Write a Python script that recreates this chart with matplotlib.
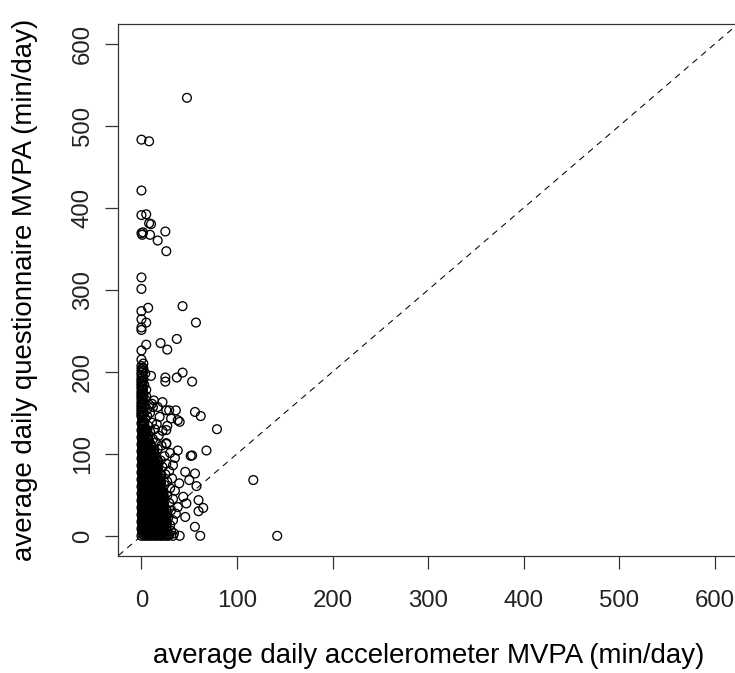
import matplotlib
matplotlib.use("Agg")
import matplotlib.pyplot as plt

plt.rcParams["font.family"] = ["Liberation Sans", "DejaVu Sans"]

# ---------------- data ----------------
x_ticks = [0, 100, 200, 300, 400, 500, 600]
y_ticks = [0, 100, 200, 300, 400, 500, 600]
x_label = "average daily accelerometer MVPA (min/day)"
y_label = "average daily questionnaire MVPA (min/day)"

# dense cluster near the origin: questionnaire value of each row, and accelerometer values in it
cluster_y = [0, 4.3, 8.6, 12.9, 17.1, 21.4, 25.7, 30, 34.3, 38.6, 42.9, 47.1, 51.4,
             55.7, 60, 64.3, 68.6, 72.9, 77.1, 81.4, 85.7, 90, 94.3, 98.6, 102.9,
             107.1, 111.4, 115.7, 120, 124.3, 128.6, 132.9, 137.1, 141.4, 145.7]
cluster_x = [
    [0, 3.1, 6.5, 9.4, 12.9, 15.8, 19.3, 22.2, 25.7, 28.4],
    [1.6, 4.7, 8.1, 11.2, 14.3, 17.7, 20.8, 24.1],
    [0, 3.3, 6.2, 9.7, 12.7, 16.1, 19.0, 22.5, 25.4],
    [1.5, 4.9, 7.9, 11.3, 14.5, 17.5, 20.9, 23.8],
    [0, 3.0, 6.4, 9.5, 12.8, 16.2, 19.2, 22.3, 25.6],
    [1.7, 4.8, 8.0, 11.1, 14.4, 17.6, 20.7, 24.0],
    [0, 3.2, 6.3, 9.6, 12.9, 15.9, 19.1, 22.4, 25.3],
    [1.6, 4.6, 8.2, 11.2, 14.2, 17.8, 20.8, 23.9],
    [0, 3.1, 6.4, 9.8, 12.7, 16.0, 19.3, 22.2],
    [1.5, 4.8, 7.9, 11.3, 14.4, 17.6, 20.6, 23.7],
    [0, 3.3, 6.5, 9.5, 12.8, 16.1, 19.2, 22.5],
    [1.6, 4.7, 8.1, 11.0, 14.5, 17.7, 20.9, 23.6],
    [0, 3.2, 6.3, 9.6, 12.6, 15.9, 19.0, 22.1],
    [1.7, 4.9, 8.0, 11.2, 14.3, 17.5, 20.7],
    [0, 3.0, 6.4, 9.7, 12.9, 16.0, 19.2],
    [1.6, 4.8, 7.8, 11.1, 14.6, 17.6, 20.5],
    [0, 3.1, 6.6, 9.5, 12.7, 16.2, 19.0],
    [1.5, 4.6, 8.1, 11.3, 14.4, 17.8, 20.8],
    [0, 3.2, 6.2, 9.6, 12.8, 15.8],
    [1.7, 4.8, 8.0, 11.2, 14.3, 17.4],
    [0, 3.3, 6.4, 9.4, 12.9, 16.1],
    [1.6, 4.7, 7.9, 11.0, 14.5, 17.6],
    [0, 3.1, 6.3, 9.6, 12.7],
    [1.5, 4.9, 8.1, 11.3, 14.2],
    [0, 3.2, 6.5, 9.5, 12.8],
    [1.6, 4.8, 7.9],
    [0, 3.0, 6.4, 9.7],
    [1.7, 4.6, 8.0],
    [0, 3.2, 6.3],
    [1.5, 4.7],
    [0, 3.1, 6.2],
    [1.6],
    [0, 3.0],
    [1.4],
    [0],
]

# second set of rows of the cluster (values lying between the rows above)
cluster2_y = [2.1, 6.4, 10.7, 15, 19.3, 23.6, 27.9, 32.1, 36.4, 40.7, 45, 49.3, 53.6,
              57.9, 62.1, 66.4, 70.7, 75, 79.3, 83.6, 87.9, 92.1, 96.4, 100.7, 105,
              109.3, 113.6, 117.9, 122.1, 126.4, 130.7, 135, 139.3, 143.6]
cluster2_x = [
    [0.8, 4.0, 7.3, 10.4, 13.5, 16.9, 20.0, 23.1, 26.5],
    [0.7, 3.9, 7.1, 10.5, 13.7, 16.8, 20.1, 23.3, 26.3],
    [0.9, 4.1, 7.2, 10.3, 13.6, 16.7, 19.9, 23.2, 26.4],
    [0.8, 3.8, 7.4, 10.4, 13.5, 16.9, 20.2, 23.0, 26.6],
    [0.6, 4.0, 7.2, 10.6, 13.8, 16.8, 20.0, 23.3, 26.2],
    [0.8, 4.2, 7.1, 10.4, 13.4, 17.0, 19.8, 23.1, 26.5],
    [0.9, 3.9, 7.3, 10.2, 13.6, 16.7, 20.1, 23.2, 26.4],
    [0.7, 4.1, 7.2, 10.5, 13.7, 16.9, 20.0, 23.4, 26.1],
    [0.8, 4.0, 7.0, 10.4, 13.5, 16.8, 19.9, 23.2],
    [0.8, 3.8, 7.3, 10.3, 13.6, 17.0, 20.2, 23.0],
    [0.6, 4.1, 7.2, 10.6, 13.8, 16.7, 20.0, 23.3],
    [0.9, 4.0, 7.4, 10.4, 13.4, 16.9, 19.8, 23.1],
    [0.7, 3.9, 7.1, 10.5, 13.7, 16.8, 20.1, 23.2],
    [0.8, 4.2, 7.2, 10.3, 13.5, 16.6, 20.0],
    [0.8, 4.0, 7.3, 10.4, 13.6, 16.9, 19.9],
    [0.7, 3.8, 7.2, 10.6, 13.5, 16.8, 20.2],
    [0.9, 4.1, 7.0, 10.4, 13.7, 17.0, 20.0],
    [0.8, 4.0, 7.4, 10.2, 13.6, 16.7, 19.8],
    [0.6, 3.9, 7.2, 10.5, 13.4, 16.8],
    [0.8, 4.1, 7.1, 10.4, 13.8, 16.9],
    [0.9, 4.0, 7.3, 10.3, 13.5, 16.7],
    [0.7, 3.8, 7.2, 10.6, 13.6, 17.0],
    [0.8, 4.2, 7.4, 10.4, 13.7],
    [0.8, 4.0, 7.1, 10.2, 13.5],
    [0.6, 3.9, 7.2, 10.5, 13.6],
    [0.9, 4.1, 7.3, 10.4],
    [0.7, 4.0, 7.2],
    [0.8, 3.8, 7.1],
    [0.8, 4.1, 7.3],
    [0.9, 4.0],
    [0.7, 3.9],
    [0.8, 2.4],
    [0.8, 2.2],
    [0.7],
]

# ragged edge of the cluster and the column of zero-accelerometer values above it
edge_x = [29, 31, 34, 30, 33, 28, 36, 31, 29, 33, 27, 35, 30, 38,
          24, 27, 32, 25, 29, 22, 26, 33, 20, 24, 30, 35,
          17, 21, 15, 26, 12, 18, 9, 14, 22, 7, 11, 4, 16, 27,
          0, 0, 0, 0, 0, 0, 0, 0, 0, 0, 0, 0, 0, 0, 0, 0, 0, 0, 0,
          1.5, 1.5, 1.5, 1.5, 1.5, 1.5, 1.5, 1.5, 1.5, 1.5, 1.5, 1.5,
          2.5, 3, 4, 2, 5, 3, 6, 8, 5, 2, 4, 2, 9, 12, 6,
          11, 17, 29, 36, 26, 26, 38]
edge_y = [2, 6, 3, 13, 19, 22, 27, 31, 40, 45, 49, 55, 58, 35,
          62, 66, 70, 75, 79, 84, 88, 86, 92, 97, 101, 95,
          106, 110, 114, 112, 118, 122, 127, 130, 128, 134, 138, 143, 136, 134,
          148, 151, 154, 157, 160, 163, 167, 170, 173, 176, 180, 183, 186, 189, 192, 196, 199, 203, 207,
          149.5, 155.5, 161.5, 165, 168.5, 174.5, 178, 181.5, 187.5, 194, 201, 205,
          150, 158, 166, 172, 178, 184, 154, 160, 170, 190, 198, 204, 150, 157, 146,
          161, 157, 153, 153, 129, 113, 141]

# isolated points
outlier_x = [47.6, 0, 8, 0, 0, 5, 8, 10, 0, 0.8, 1.6, 9, 25, 17, 26, 0,
             0, 7, 0, 43, 57, 0, 0, 0, 5, 37, 20, 27, 5, 0, 0, 2,
             10, 25, 25, 37, 43, 53, 13, 22, 26, 56, 62, 79, 38, 68, 53, 51.5,
             31, 40, 19,
             117, 142, 61.5, 40, 33, 56, 57.6, 59.7, 64.6, 59.7, 45.8, 55.9,
             45.8, 50, 39.5, 43.7, 47]
outlier_y = [534, 483, 481, 421, 391, 392, 381, 380, 369, 367, 370, 367, 371, 360, 347, 315,
             301, 278, 274, 280, 260, 264, 254, 251, 260, 240, 235, 227, 233, 226, 215, 210,
             195, 193, 188, 193, 199, 188, 165, 163, 153, 151, 146, 130, 104, 104, 98, 97.5,
             143, 139, 145,
             68, 0, 0, 0, 0, 76, 60.6, 43.5, 34, 30, 23, 11,
             78, 68, 64, 47.6, 39.5]

# ---------------- figure ----------------
W, H = 735, 673
fig = plt.figure(figsize=(W / 100, H / 100), dpi=100)
L, R, T, B = 118.5, 738.0, 24.0, 555.5
ax = fig.add_axes([L / W, 1 - B / H, (R - L) / W, (B - T) / H])

xs, ys = [], []
for yv, row in list(zip(cluster_y, cluster_x)) + list(zip(cluster2_y, cluster2_x)):
    for xv in row:
        xs.append(xv)
        ys.append(yv)
xs += edge_x + outlier_x
ys += edge_y + outlier_y

ax.scatter(xs, ys, s=40, facecolors="none", edgecolors="black", linewidths=0.95, zorder=3)
ax.axline((0, 0), slope=1, color="black", lw=0.75, dashes=(6, 5), zorder=2)

ax.set_xlim(-24, 624)
ax.set_ylim(-24, 624)
ax.set_xticks(x_ticks)
ax.set_yticks(y_ticks)
ax.set_xticklabels([str(v) for v in x_ticks])
ax.set_yticklabels([str(v) for v in y_ticks], rotation=90, va="center")

for sp in ax.spines.values():
    sp.set_color("#333333")
    sp.set_linewidth(0.9)

ax.tick_params(axis="both", direction="out", length=9.4, width=0.9, color="#333333",
               labelsize=17.3, labelcolor="#222222")
ax.tick_params(axis="x", pad=15.5)
ax.tick_params(axis="y", pad=8.4)

ax.set_xlabel(x_label, fontsize=19.9, color="black")
ax.set_ylabel(y_label, fontsize=19.9, color="black")
ax.xaxis.label.set_va("baseline")
ax.yaxis.label.set_va("baseline")
ax.xaxis.set_label_coords(0.5, (B - 663.3) / (B - T))
ax.yaxis.set_label_coords((31.7 - L) / (R - L), 0.5)

fig.savefig("out.png", dpi=100)
